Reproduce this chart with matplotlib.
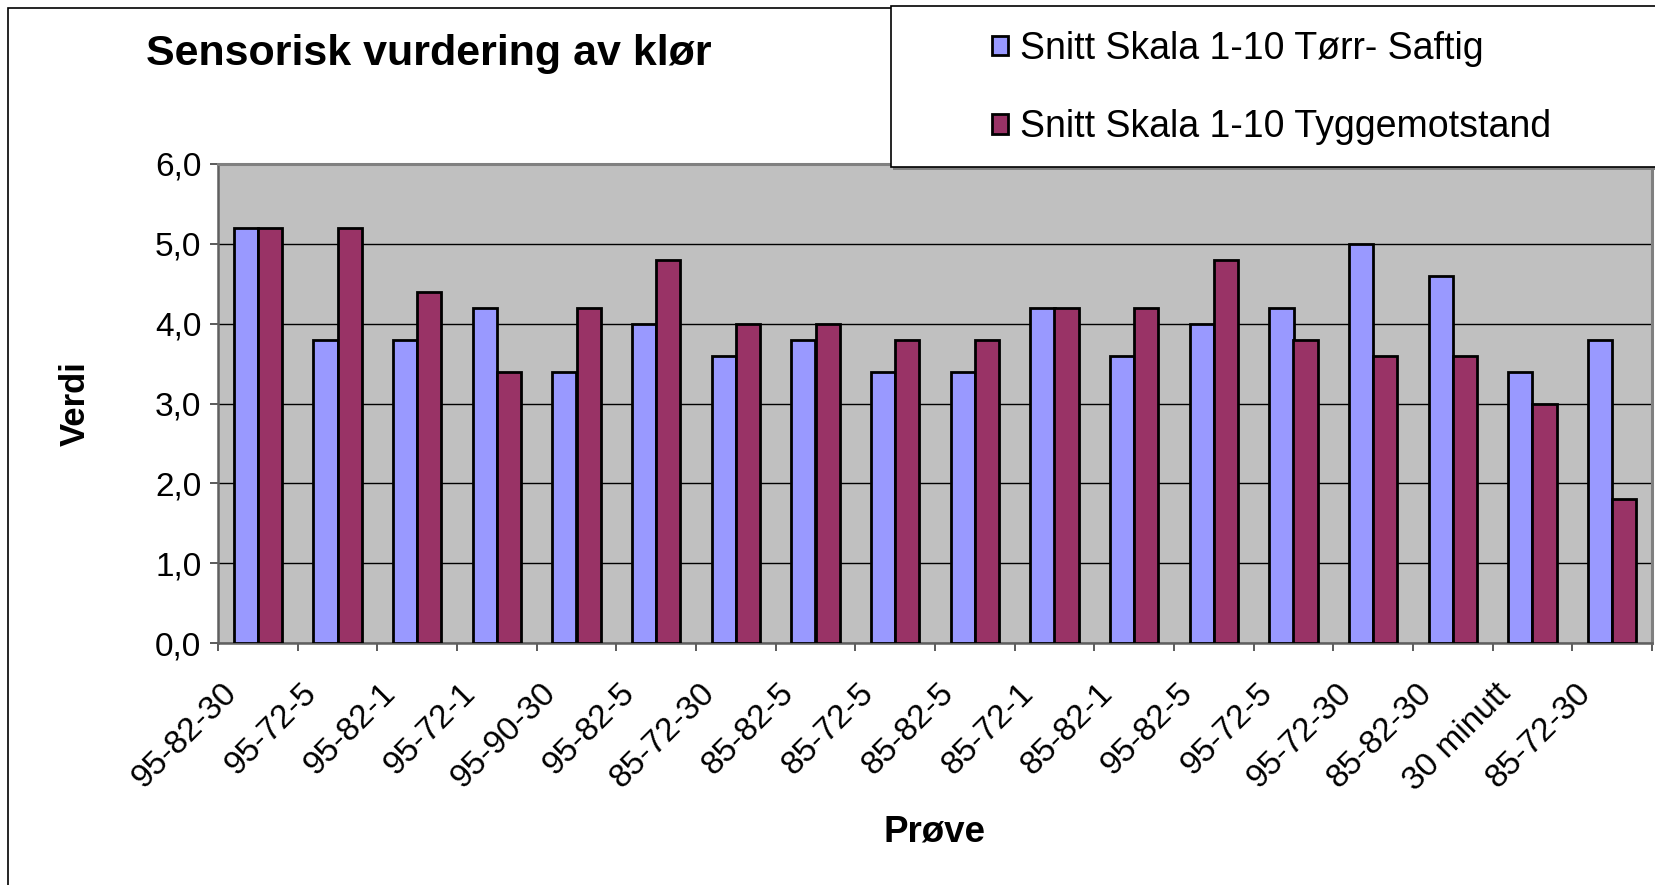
import matplotlib
matplotlib.use("Agg")
import matplotlib.pyplot as plt
import matplotlib.transforms as mtransforms
from matplotlib.patches import Rectangle
import numpy as np

plt.rcParams['font.family'] = ['Liberation Sans', 'DejaVu Sans']

categories = ["95-82-30", "95-72-5", "95-82-1", "95-72-1", "95-90-30", "95-82-5",
              "85-72-30", "85-82-5", "85-72-5", "85-82-5", "85-72-1", "85-82-1",
              "95-82-5", "95-72-5", "95-72-30", "85-82-30", "30 minutt", "85-72-30"]
torr_saftig = [5.2, 3.8, 3.8, 4.2, 3.4, 4.0, 3.6, 3.8, 3.4, 3.4, 4.2, 3.6, 4.0, 4.2, 5.0, 4.6, 3.4, 3.8]
tyggemotstand = [5.2, 5.2, 4.4, 3.4, 4.2, 4.8, 4.0, 4.0, 3.8, 3.8, 4.2, 4.2, 4.8, 3.8, 3.6, 3.6, 3.0, 1.8]
series_names = ["Snitt Skala 1-10 Tørr- Saftig", "Snitt Skala 1-10 Tyggemotstand"]
yticks = [0.0, 1.0, 2.0, 3.0, 4.0, 5.0, 6.0]

W, H, DPI = 1655, 885, 100
fig = plt.figure(figsize=(W / DPI, H / DPI), dpi=DPI)
fig.patch.set_facecolor('white')

# plot area in pixels
L, R, T, B = 218, 1652, 164, 643
ax = fig.add_axes([L / W, 1 - B / H, (R - L) / W, (B - T) / H])
ax.set_facecolor('#C0C0C0')

x = np.arange(len(categories))
bw = 0.305
b1 = ax.bar(x - bw / 2, torr_saftig, width=bw, color='#9999FF', edgecolor='black',
            linewidth=2.0, label=series_names[0], zorder=3)
b2 = ax.bar(x + bw / 2, tyggemotstand, width=bw, color='#993366', edgecolor='black',
            linewidth=2.0, label=series_names[1], zorder=3)

ax.set_xlim(-0.5, len(categories) - 0.5)
ax.set_ylim(0, 6)
ax.set_yticks(yticks)
ax.set_yticklabels([f"{v:.1f}".replace('.', ',') for v in yticks], fontsize=24)
ax.yaxis.grid(True, color='black', linewidth=1.0, zorder=1)
ax.set_axisbelow(True)

ax.set_xticks(x)
ax.set_xticklabels(categories, fontsize=24, rotation=45, ha='right', va='top',
                   rotation_mode='anchor')
ax.set_xticks(np.arange(-0.5, len(categories)), minor=True)
ax.tick_params(axis='x', which='major', length=0, pad=25)
ax.tick_params(axis='x', which='minor', length=6, width=1.2, color='#404040', direction='out')
ax.tick_params(axis='y', length=6, width=1.2, color='#404040', direction='out', pad=6)
offset = mtransforms.ScaledTranslation(-37 / DPI, 0, fig.dpi_scale_trans)
for lbl in ax.get_xticklabels():
    lbl.set_transform(lbl.get_transform() + offset)

for s in ['top', 'right']:
    ax.spines[s].set_color('#808080')
    ax.spines[s].set_linewidth(2.2)
ax.spines['left'].set_color('#606060')
ax.spines['left'].set_linewidth(1.8)
ax.spines['bottom'].set_color('#606060')
ax.spines['bottom'].set_linewidth(1.8)

# axis titles
fig.text(75 / W, 1 - 404 / H, "Verdi", rotation=90, fontsize=25, fontweight='bold',
         ha='center', va='center')
fig.text(935 / W, 1 - 832 / H, "Prøve", fontsize=26.5, fontweight='bold',
         ha='center', va='center')

# title
fig.text(146 / W, 1 - 54 / H, "Sensorisk vurdering av klør", fontsize=31, fontweight='bold',
         ha='left', va='center')

# chart outer border
fig.patches.append(Rectangle((8 / W, -0.1), 1.2, 1 - 8 / H + 0.1, transform=fig.transFigure,
                             fill=False, edgecolor='black', linewidth=1.2, zorder=0))

# legend box
lx0, ly0, lx1, ly1 = 891, 6, 1680, 167
fig.patches.append(Rectangle((lx0 / W + 2 / W, 1 - ly1 / H - 3 / H), (lx1 - lx0) / W, (ly1 - ly0) / H,
                             transform=fig.transFigure, facecolor='#808080', edgecolor='none', zorder=5))
fig.patches.append(Rectangle((lx0 / W, 1 - ly1 / H), (lx1 - lx0) / W, (ly1 - ly0) / H,
                             transform=fig.transFigure, facecolor='white', edgecolor='black',
                             linewidth=1.2, zorder=6))
leg = fig.legend(handles=[b1, b2], labels=series_names, loc='upper left',
                 bbox_to_anchor=(992 / W, 1 - 31 / H), frameon=False, fontsize=27,
                 handlelength=0.42, handleheight=0.42, handletextpad=0.32,
                 labelspacing=1.13, borderpad=0, borderaxespad=0)
leg.set_zorder(7)

fig.savefig("out.png", dpi=DPI)
